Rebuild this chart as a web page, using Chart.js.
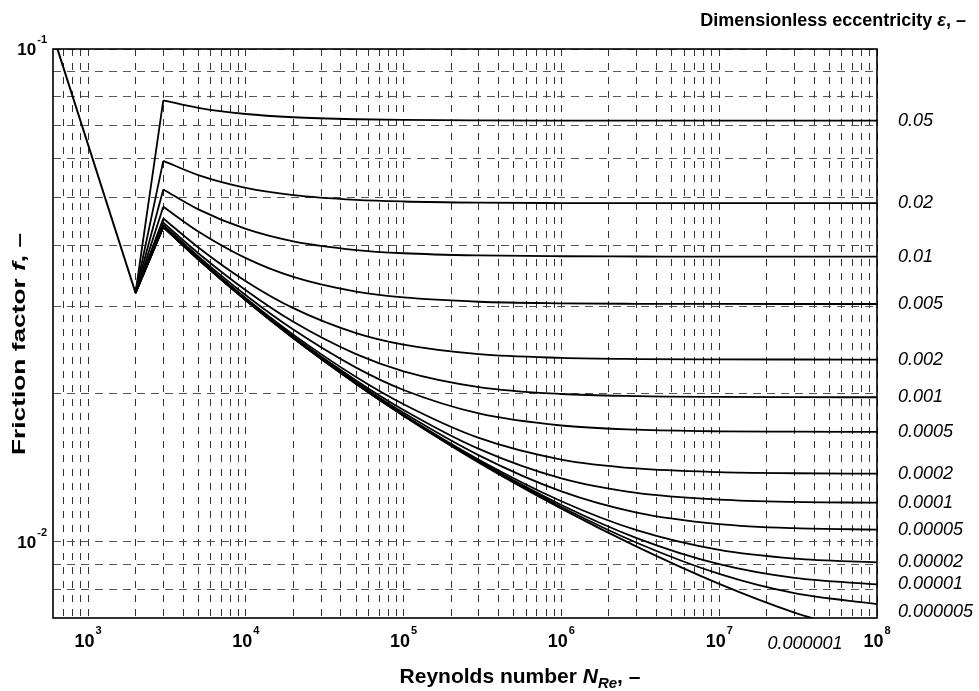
<!DOCTYPE html>
<html>
<head>
<meta charset="utf-8">
<script src="https://cdn.jsdelivr.net/npm/chart.js@4.4.1/dist/chart.umd.min.js"></script>
<style>
html,body{margin:0;padding:0;background:#fff;}
#wrap{width:979px;height:691px;position:relative;}
</style>
</head>
<body>
<div id="wrap"><canvas id="c" width="979" height="691"></canvas></div>
<script>
// ---------- data ----------
const reynolds = [3000, 5000, 1e4, 2e4, 5e4, 1e5, 3e5, 1e6, 3e6, 1e7, 3e7, 1e8];
const laminarRe = [600, 2000];
const laminarF = [0.1067, 0.032];
const transitionStartRe = 2000;
const transitionStartF = 0.032;

const epsilonLabels = ['0.05','0.02','0.01','0.005','0.002','0.001','0.0005','0.0002','0.0001','0.00005','0.00002','0.00001','0.000005','0.000001'];

const fEps0_05     = [0.07867,0.07594,0.0738,0.07269,0.07201,0.07178,0.07163,0.07157,0.07156,0.07155,0.07155,0.07155];
const fEps0_02     = [0.05929,0.05548,0.05227,0.05052,0.04941,0.04903,0.04877,0.04868,0.04865,0.04864,0.04864,0.04864];
const fEps0_01     = [0.05187,0.04726,0.04313,0.0407,0.03908,0.0385,0.03811,0.03796,0.03792,0.0379,0.0379,0.0379];
const fEps0_005    = [0.04784,0.04261,0.03763,0.03447,0.03218,0.03131,0.03069,0.03047,0.0304,0.03038,0.03037,0.03037];
const fEps0_002    = [0.04529,0.03956,0.03379,0.02979,0.02651,0.02511,0.02402,0.02361,0.02348,0.02344,0.02343,0.02342];
const fEps0_001    = [0.04441,0.0385,0.03238,0.02794,0.02402,0.02217,0.0206,0.01994,0.01974,0.01967,0.01965,0.01964];
const fEps0_0005   = [0.04397,0.03794,0.03164,0.02695,0.02256,0.02032,0.01821,0.01721,0.01688,0.01675,0.01672,0.0167];
const fEps0_0002   = [0.04369,0.0376,0.03119,0.02632,0.02159,0.01901,0.01624,0.01468,0.01408,0.01384,0.01377,0.01374];
const fEps0_0001   = [0.04361,0.03751,0.03104,0.0261,0.02125,0.01851,0.01543,0.01344,0.01256,0.01217,0.01204,0.012];
const fEps0_00005  = [0.04356,0.03745,0.03096,0.02599,0.02107,0.01826,0.01497,0.01265,0.01146,0.01086,0.01065,0.01058];
const fEps0_00002  = [0.04354,0.03741,0.03092,0.02593,0.02096,0.0181,0.01467,0.01208,0.01055,0.00962,0.00924,0.00908];
const fEps0_00001  = [0.04353,0.0374,0.0309,0.02591,0.02093,0.01804,0.01457,0.01187,0.01017,0.009,0.00844,0.00819];
const fEps0_000005 = [0.04352,0.0374,0.03089,0.02589,0.02091,0.01802,0.01452,0.01176,0.00995,0.0086,0.00786,0.00747];
const fEps0_000001 = [0.04352,0.03739,0.03088,0.02588,0.02089,0.018,0.01447,0.01167,0.00977,0.00821,0.00718,0.00643];

const curves = [fEps0_05,fEps0_02,fEps0_01,fEps0_005,fEps0_002,fEps0_001,fEps0_0005,fEps0_0002,fEps0_0001,fEps0_00005,fEps0_00002,fEps0_00001,fEps0_000005,fEps0_000001];

// label anchor overrides (value units): null = end of curve
const labelAnchorF = [null,null,null,null,null,null,null,null,null,null,null,null,0.0072,null];
const belowAxisLabelRe = 3.5e7; // position of the "0.000001" label under the axis

// axes
const xMin = 600, xMax = 1e8, yMin = 0.007, yMax = 0.1;
const xGridValues = [700,800,900,1e3,2e3,3e3,4e3,5e3,6e3,7e3,8e3,9e3,1e4,2e4,3e4,4e4,5e4,6e4,7e4,8e4,9e4,1e5,2e5,3e5,4e5,5e5,6e5,7e5,8e5,9e5,1e6,2e6,3e6,4e6,5e6,6e6,7e6,8e6,9e6,1e7,2e7,3e7,4e7,5e7,6e7,7e7,8e7,9e7,1e8];
const yGridValues = [0.008,0.009,0.01,0.02,0.03,0.04,0.05,0.06,0.07,0.08,0.09,0.1];
const xTickValues = [1e3,1e4,1e5,1e6,1e7,1e8];
const xTickExponents = ['3','4','5','6','7','8'];
const yTickValues = [0.1,0.01];
const yTickExponents = ['-1','-2'];

// ---------- datasets ----------
const FONT = '"Liberation Sans", Arial, Helvetica, sans-serif';
const datasets = [];
datasets.push({
  data: laminarRe.map((r,i)=>({x:r,y:laminarF[i]})),
  borderColor:'#000', borderWidth:2, pointRadius:0, tension:0, fill:false
});
curves.forEach(arr => {
  datasets.push({
    data:[{x:transitionStartRe,y:transitionStartF},{x:reynolds[0],y:arr[0]}],
    borderColor:'#000', borderWidth:1.8, pointRadius:0, tension:0, fill:false
  });
  datasets.push({
    data: reynolds.map((r,i)=>({x:r,y:arr[i]})),
    borderColor:'#000', borderWidth:1.8, pointRadius:0, cubicInterpolationMode:'monotone', fill:false
  });
});

function drawPow(ctx, x, baseline, base, exp, align, baseSize, expSize, rise){
  ctx.font = 'bold ' + baseSize + 'px ' + FONT;
  const wb = ctx.measureText(base).width;
  ctx.font = 'bold ' + expSize + 'px ' + FONT;
  const we = ctx.measureText(exp).width;
  const total = wb + 1 + we;
  let x0 = align === 'center' ? x - total/2 : x - total;
  ctx.textAlign = 'left';
  ctx.textBaseline = 'alphabetic';
  ctx.font = 'bold ' + baseSize + 'px ' + FONT;
  ctx.fillText(base, x0, baseline);
  ctx.font = 'bold ' + expSize + 'px ' + FONT;
  ctx.fillText(exp, x0 + wb + 1, baseline - rise);
}

function runsWidth(ctx, runs){
  let total = 0;
  runs.forEach(r => { ctx.font = r.font; total += ctx.measureText(r.t).width; });
  return total;
}
function drawRuns(ctx, x, baseline, runs, align){
  const total = runsWidth(ctx, runs);
  let cx = align === 'right' ? x - total : (align === 'center' ? x - total/2 : x);
  ctx.textAlign = 'left'; ctx.textBaseline = 'alphabetic';
  runs.forEach(r => { ctx.font = r.font; ctx.fillText(r.t, cx, baseline + (r.dy||0)); cx += ctx.measureText(r.t).width; });
}

const textPlugin = {
  id:'texts',
  afterDraw(chart){
    const ctx = chart.ctx, xs = chart.scales.x, ys = chart.scales.y, a = chart.chartArea;
    ctx.save();
    ctx.strokeStyle = '#000'; ctx.lineWidth = 1.6;
    ctx.strokeRect(a.left, a.top, a.right - a.left, a.bottom - a.top);
    ctx.fillStyle = '#000';
    // x tick labels
    xTickValues.forEach((v,i) => drawPow(ctx, xs.getPixelForValue(v), a.bottom + 29, '10', xTickExponents[i], 'center', 18, 11, 13));
    // y tick labels
    yTickValues.forEach((v,i) => drawPow(ctx, a.left - 6, ys.getPixelForValue(v) + 6, '10', yTickExponents[i], 'right', 17, 11, 12));
    // epsilon labels
    ctx.font = 'italic 18px ' + FONT;
    ctx.textAlign = 'left'; ctx.textBaseline = 'middle';
    curves.forEach((arr,i) => {
      if (i === curves.length - 1) return;
      const fv = labelAnchorF[i] !== null ? labelAnchorF[i] : arr[arr.length-1];
      ctx.fillText(epsilonLabels[i], a.right + 21, ys.getPixelForValue(fv));
    });
    ctx.textAlign = 'center'; ctx.textBaseline = 'alphabetic';
    ctx.fillText(epsilonLabels[curves.length-1], xs.getPixelForValue(belowAxisLabelRe), a.bottom + 31);
    // titles
    const B = 'bold 18px ' + FONT, BI = 'italic bold 18px ' + FONT;
    drawRuns(ctx, 966, 26, [{t:'Dimensionless eccentricity ',font:B},{t:'ε',font:BI},{t:', –',font:B}], 'right');
    const XB = 'bold 21px ' + FONT, XBI = 'italic bold 21px ' + FONT, XBIs = 'italic bold 15px ' + FONT;
    drawRuns(ctx, 520, 683, [{t:'Reynolds number ',font:XB},{t:'N',font:XBI},{t:'Re',font:XBIs,dy:5},{t:', –',font:XB}], 'center');
    // y title (long lettering)
    const YB = 'bold 18px ' + FONT, YBI = 'italic bold 18px ' + FONT;
    const yRuns = [{t:'Friction factor ',font:YB},{t:'f',font:YBI},{t:', –',font:YB}];
    const yw = runsWidth(ctx, yRuns);
    ctx.save();
    ctx.translate(25, 344); ctx.rotate(-Math.PI/2);
    ctx.scale(222 / yw, 1);
    drawRuns(ctx, 0, 0, yRuns, 'center');
    ctx.restore();
    ctx.restore();
  }
};

new Chart(document.getElementById('c'), {
  type:'line',
  data:{ datasets },
  options:{
    responsive:false, animation:false, events:[],
    layout:{ padding:{ left:53, top:49, right:102, bottom:73 } },
    plugins:{ legend:{display:false}, tooltip:{enabled:false} },
    scales:{
      x:{ type:'logarithmic', min:xMin, max:xMax,
          afterBuildTicks: s => { s.ticks = xGridValues.map(v => ({value:v})); },
          ticks:{ display:false }, grid:{ color:'#333', lineWidth:1, drawTicks:false },
          border:{ display:false, dash:[7,7] } },
      y:{ type:'logarithmic', min:yMin, max:yMax,
          afterBuildTicks: s => { s.ticks = yGridValues.map(v => ({value:v})); },
          ticks:{ display:false }, grid:{ color:'#555', lineWidth:1, drawTicks:false },
          border:{ display:false, dash:[8,6] } }
    }
  },
  plugins:[textPlugin]
});
</script>
</body>
</html>
